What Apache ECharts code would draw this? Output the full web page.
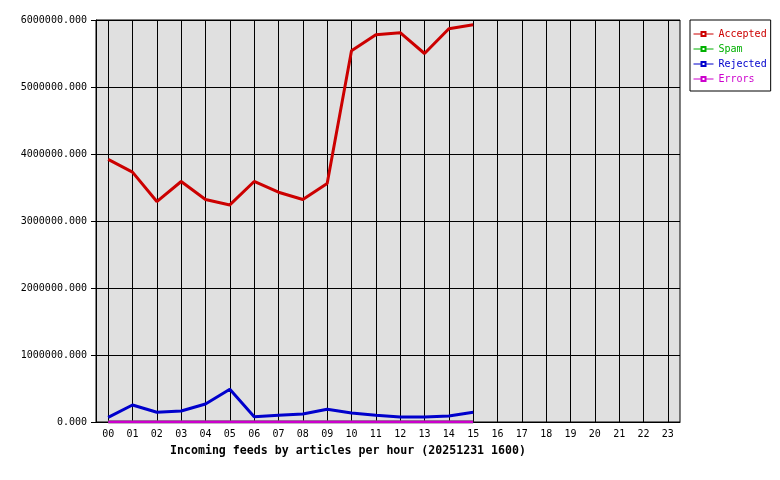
<!DOCTYPE html>
<html>
<head>
<meta charset="utf-8">
<script src="https://cdn.jsdelivr.net/npm/echarts@6/dist/echarts.min.js"></script>
<style>html,body{margin:0;padding:0;background:#fff}#c{width:780px;height:480px}</style>
</head>
<body>
<div id="c"></div>
<script>
const hours = ['00','01','02','03','04','05','06','07','08','09','10','11','12','13','14','15','16','17','18','19','20','21','22','23'];
const accepted = [3920000,3730000,3290000,3590000,3320000,3240000,3590000,3430000,3320000,3560000,5540000,5780000,5810000,5500000,5870000,5930000];
const spam = [0,0,0,0,0,0,0,0,0,0,0,0,0,0,0,0];
const rejected = [70000,254000,145000,164000,269000,488000,79000,100000,119000,190000,134000,100000,75000,75000,90000,145000];
const errors = [0,0,0,0,0,0,0,0,0,0,0,0,0,0,0,0];
const yTicks = {min:0, max:6000000, interval:1000000};
const title = 'Incoming feeds by articles per hour (20251231 1600)';

const FONT = 'DejaVu Sans Mono';
const colors = {Accepted:'#cc0000', Spam:'#00b000', Rejected:'#0000cc', Errors:'#cc00cc'};
function mk(name, data){
  return {name, type:'line', data, color:colors[name], symbol:'emptyRect', symbolSize:4, showSymbol:false,
    lineStyle:{width:3, color:colors[name]}, itemStyle:{color:colors[name]}, animation:false, silent:true};
}
const chart = echarts.init(document.getElementById('c'), null, {renderer:'canvas'});
chart.setOption({
  animation:false,
  title:{text:title, left:170, top:445, padding:0, textStyle:{fontFamily:FONT, fontWeight:'bold', fontSize:11.6, color:'#000'}},
  grid:{left:96, top:20, right:100, bottom:58, show:true, backgroundColor:'#e0e0e0', borderColor:'#000', borderWidth:1},
  legend:{orient:'vertical', left:690, top:20, padding:[9,4,7,3], itemGap:5, itemWidth:20, itemHeight:5,
    borderColor:'#000', borderWidth:1, backgroundColor:'#fff', selectedMode:false,
    lineStyle:{width:1}, itemStyle:{borderWidth:1},
    textStyle:{fontFamily:FONT, fontSize:10},
    data:Object.keys(colors).map(n=>({name:n, textStyle:{color:colors[n]}}))},
  xAxis:{type:'category', data:hours, boundaryGap:true,
    axisLine:{show:true, lineStyle:{color:'#000', width:1}},
    axisTick:{show:false, alignWithLabel:true},
    splitLine:{show:true, alignWithLabel:true, lineStyle:{color:'#000', width:1}},
    axisLabel:{fontFamily:FONT, fontSize:10, color:'#000', margin:7, interval:0}},
  yAxis:{type:'value', min:yTicks.min, max:yTicks.max, interval:yTicks.interval,
    axisLine:{show:true, lineStyle:{color:'#000'}},
    axisTick:{show:true, length:5, lineStyle:{color:'#000'}},
    splitLine:{show:true, lineStyle:{color:'#000', width:1}},
    axisLabel:{fontFamily:FONT, fontSize:10, color:'#000', margin:9, formatter:v=>v.toFixed(3)}},
  series:[mk('Accepted',accepted), mk('Spam',spam), mk('Rejected',rejected), mk('Errors',errors)]
});
</script>
</body>
</html>
